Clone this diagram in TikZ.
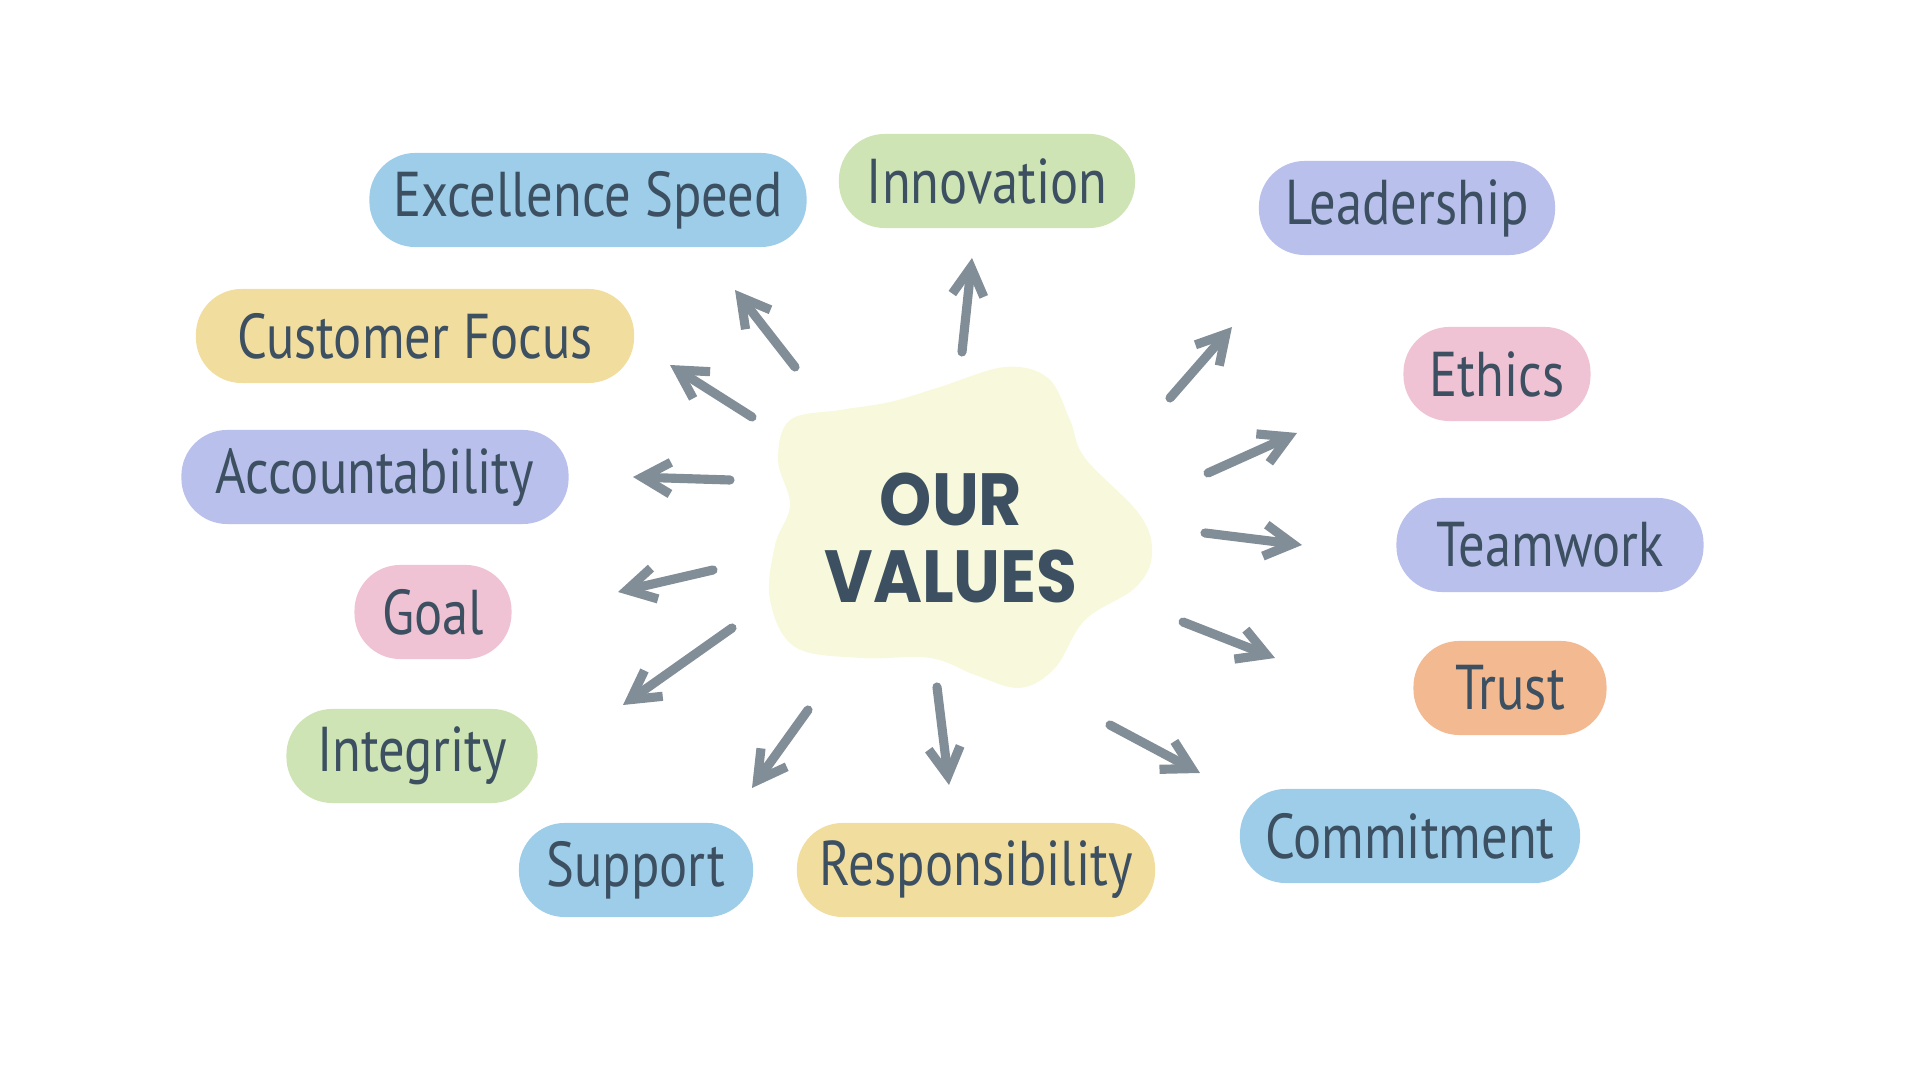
\documentclass[tikz,border=0pt]{standalone}
\usepackage{fontspec}
\usetikzlibrary{arrows.meta}

\newfontfamily\pillfont[FakeStretch=0.83]{PT Sans}
\newfontfamily\titlefont[FakeStretch=0.9]{Poppins}

\definecolor{ink}{HTML}{3C5062}
\definecolor{arrowgray}{HTML}{818D97}
\definecolor{blobfill}{HTML}{F8F9DC}
\definecolor{pillblue}{HTML}{9DCDE9}
\definecolor{pillgreen}{HTML}{CEE4B4}
\definecolor{pillpurple}{HTML}{BAC0EC}
\definecolor{pillyellow}{HTML}{F1DD9E}
\definecolor{pillpink}{HTML}{EFC3D3}
\definecolor{pillorange}{HTML}{F3BA92}

\begin{document}
\begin{tikzpicture}[x=0.01cm, y=-0.01cm,
    pill/.style={fill=#1, rounded corners=13pt, minimum height=0.94cm,
        inner sep=0pt, text=ink, font=\pillfont\fontsize{18}{20}\selectfont},
    arr/.style={draw=arrowgray, line width=2.6pt, line cap=round,
        -{Straight Barb[length=8pt, width=9pt]}}]
    \useasboundingbox (0,0) rectangle (1920,1080);

    % centre blob
    \fill[blobfill] plot[smooth cycle, tension=0.6] coordinates {
        (790,420) (840,410) (890,402) (940,387) (1005,367) (1048,378)
        (1070,420) (1085,458) (1140,515) (1152,555) (1135,588) (1085,620)
        (1055,668) (1020,688) (975,675) (930,658) (860,658) (795,647)
        (770,600) (775,545) (790,505) (778,460)};
    \node[text=ink, align=center, font=\titlefont\bfseries\fontsize{21}{22}\selectfont]
        (title) at (951,538) {OUR\\VALUES};

    % values
    \node[pill=pillblue, minimum width=4.37cm] (speed) at (588,200) {Excellence Speed};
    \node[pill=pillgreen, minimum width=2.96cm] (innovation) at (987,181) {Innovation};
    \node[pill=pillpurple, minimum width=2.96cm] (leadership) at (1407,208) {Leadership};
    \node[pill=pillyellow, minimum width=4.38cm] (customer) at (415,336) {Customer Focus};
    \node[pill=pillpink, minimum width=1.87cm] (ethics) at (1497,374) {Ethics};
    \node[pill=pillpurple, minimum width=3.87cm] (accountability) at (375,477) {Accountability};
    \node[pill=pillpurple, minimum width=3.07cm] (teamwork) at (1550,545) {Teamwork};
    \node[pill=pillpink, minimum width=1.57cm] (goal) at (433,612) {Goal};
    \node[pill=pillorange, minimum width=1.93cm] (trust) at (1510,688) {Trust};
    \node[pill=pillgreen, minimum width=2.51cm] (integrity) at (412,756) {Integrity};
    \node[pill=pillblue, minimum width=3.40cm] (commitment) at (1410,836) {Commitment};
    \node[pill=pillblue, minimum width=2.34cm] (support) at (636,870) {Support};
    \node[pill=pillyellow, minimum width=3.58cm] (responsibility) at (976,870) {Responsibility};

    % arrow ends
    \coordinate (t1) at (795,367);   \coordinate (h1) at (735,290);
    \coordinate (t2) at (962,352);   \coordinate (h2) at (972,258);
    \coordinate (t3) at (1170,398);  \coordinate (h3) at (1232,327);
    \coordinate (t4) at (752,417);   \coordinate (h4) at (670,365);
    \coordinate (t5) at (1208,473);  \coordinate (h5) at (1297,433);
    \coordinate (t6) at (730,480);   \coordinate (h6) at (633,477);
    \coordinate (t7) at (1205,533);  \coordinate (h7) at (1302,545);
    \coordinate (t8) at (713,570);   \coordinate (h8) at (618,592);
    \coordinate (t9) at (1183,622);  \coordinate (h9) at (1275,658);
    \coordinate (t10) at (732,628);  \coordinate (h10) at (623,705);
    \coordinate (t11) at (1110,725); \coordinate (h11) at (1200,773);
    \coordinate (t12) at (808,710);  \coordinate (h12) at (752,788);
    \coordinate (t13) at (937,687);  \coordinate (h13) at (949,785);

    \draw[arr] (t1) -- (h1);
    \draw[arr] (t2) -- (h2);
    \draw[arr] (t3) -- (h3);
    \draw[arr] (t4) -- (h4);
    \draw[arr] (t5) -- (h5);
    \draw[arr] (t6) -- (h6);
    \draw[arr] (t7) -- (h7);
    \draw[arr] (t8) -- (h8);
    \draw[arr] (t9) -- (h9);
    \draw[arr] (t10) -- (h10);
    \draw[arr] (t11) -- (h11);
    \draw[arr] (t12) -- (h12);
    \draw[arr] (t13) -- (h13);
\end{tikzpicture}
\end{document}
